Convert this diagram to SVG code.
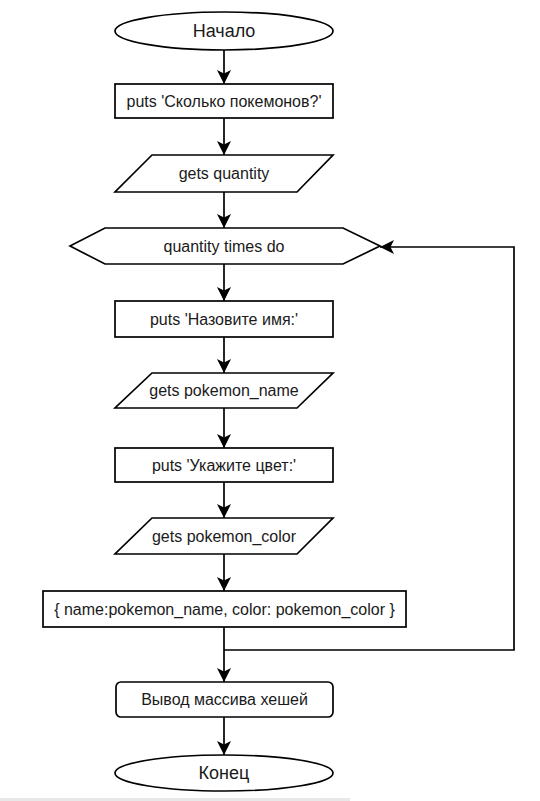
<svg xmlns="http://www.w3.org/2000/svg" width="540" height="801" viewBox="0 0 540 801">
<style>
.s{fill:#fff;stroke:#000;stroke-width:1.7}
.t{font-family:"Liberation Sans",Arial,sans-serif;font-size:16px;fill:#1a1a1a;text-anchor:middle;dominant-baseline:central}
.big{font-size:18px}
.c{fill:none;stroke:#000;stroke-width:1.7}
</style>
<defs>
<marker id="a" viewBox="0 0 14 14" refX="14" refY="7" markerWidth="14" markerHeight="14" markerUnits="userSpaceOnUse" orient="auto">
<path d="M0,0 L14,7 L0,14 L3.5,7 Z" fill="#000"/>
</marker>
</defs>
<rect width="540" height="801" fill="#fff"/>
<rect x="0" y="798" width="350" height="3" fill="#e8e8e8"/>
<g id="connectors">
<path class="c" d="M224,50 V84" marker-end="url(#a)"/>
<path class="c" d="M224,118 V155" marker-end="url(#a)"/>
<path class="c" d="M224,192 V228" marker-end="url(#a)"/>
<path class="c" d="M224,264 V301" marker-end="url(#a)"/>
<path class="c" d="M224,337 V373" marker-end="url(#a)"/>
<path class="c" d="M224,408 V448" marker-end="url(#a)"/>
<path class="c" d="M224,482 V518" marker-end="url(#a)"/>
<path class="c" d="M224,554 V591" marker-end="url(#a)"/>
<path class="c" d="M224,627 V682" marker-end="url(#a)"/>
<path class="c" d="M224,650 H514 V247 H380" marker-end="url(#a)"/>
<path class="c" d="M224,717 V755" marker-end="url(#a)"/>
</g>
<g id="start">
<ellipse class="s" cx="224" cy="31" rx="109" ry="19"/>
<text class="t big" x="224" y="31">Начало</text>
</g>
<g id="puts1">
<rect class="s" x="115" y="84" width="218" height="34"/>
<text class="t" x="224" y="101">puts 'Сколько покемонов?'</text>
</g>
<g id="gets1">
<polygon class="s" points="152,155 333,155 297,192 115,192"/>
<text class="t" x="224" y="173.5">gets quantity</text>
</g>
<g id="loop">
<polygon class="s" points="70,246 105,228 343,228 380,246 343,264 105,264"/>
<text class="t" x="224" y="246">quantity times do</text>
</g>
<g id="puts2">
<rect class="s" x="115" y="301" width="218" height="36"/>
<text class="t" x="224" y="319">puts 'Назовите имя:'</text>
</g>
<g id="gets2">
<polygon class="s" points="152,373 333,373 297,408 115,408"/>
<text class="t" x="224" y="390.5">gets pokemon_name</text>
</g>
<g id="puts3">
<rect class="s" x="115" y="448" width="218" height="34"/>
<text class="t" x="224" y="465">puts 'Укажите цвет:'</text>
</g>
<g id="gets3">
<polygon class="s" points="152,518 333,518 297,554 115,554"/>
<text class="t" x="224" y="536">gets pokemon_color</text>
</g>
<g id="hash">
<rect class="s" x="43" y="591" width="363" height="36"/>
<text class="t" x="224.5" y="609">{ name:pokemon_name, color: pokemon_color }</text>
</g>
<g id="output">
<rect class="s" x="116" y="682" width="217" height="35" rx="5"/>
<text class="t" x="224.5" y="699.5">Вывод массива хешей</text>
</g>
<g id="end">
<ellipse class="s" cx="224" cy="773" rx="109" ry="18"/>
<text class="t big" x="224" y="773">Конец</text>
</g>
</svg>
